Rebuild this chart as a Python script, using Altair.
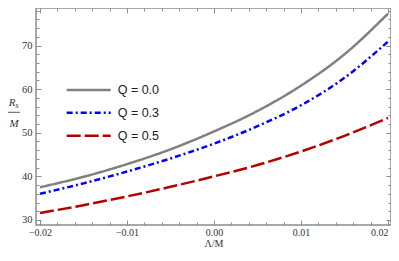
import altair as alt
import pandas as pd

# ---- data ----
lam = [-0.02, -0.015, -0.01, -0.005, 0.0, 0.005, 0.01, 0.015, 0.02]
rs_q00 = [37.5, 39.9, 42.8, 46.2, 50.3, 55.0, 60.8, 68.0, 77.3]
rs_q03 = [36.0, 38.4, 41.1, 44.1, 47.5, 51.5, 56.3, 62.6, 70.9]
rs_q05 = [31.6, 33.4, 35.4, 37.6, 40.0, 42.6, 45.7, 49.3, 53.4]
series = ["Q = 0.0", "Q = 0.3", "Q = 0.5"]
colors = ["#808080", "#0000ff", "#b30000"]
dashes = [[1, 0], [6, 3, 2, 3], [14, 4]]

x_major = [-0.02, -0.01, 0.0, 0.01, 0.02]
x_minor = [-0.018, -0.016, -0.014, -0.012, -0.008, -0.006, -0.004, -0.002,
           0.002, 0.004, 0.006, 0.008, 0.012, 0.014, 0.016, 0.018]
y_major = [30, 40, 50, 60, 70]
y_minor = [32, 34, 36, 38, 42, 44, 46, 48, 52, 54, 56, 58, 62, 64, 66, 68, 72, 74, 76, 78]

rows = []
for name, vals in zip(series, [rs_q00, rs_q03, rs_q05]):
    for l, v in zip(lam, vals):
        rows.append({"lam": l, "rs": v, "series": name})
df = pd.DataFrame(rows)
leg = pd.DataFrame({"series": series})

W, H = 355, 217
XDOM = [-0.02046, 0.020345]
YDOM = [28.85, 78.6]
FRAME = "#8c8c8c"
SERIF = "Liberation Serif"
TXT = "#333333"

xs = alt.Scale(domain=XDOM, nice=False, zero=False)
ys = alt.Scale(domain=YDOM, nice=False, zero=False)
cscale = alt.Scale(domain=series, range=colors)
dscale = alt.Scale(domain=series, range=dashes)
lscale = alt.Scale(domain=series, range=[82, 127.7], type="point", padding=0)


def tick_axis(orient, values, size):
    return alt.Axis(orient=orient, values=values, labels=False, domain=False, grid=False,
                    ticks=True, tickSize=size, tickColor=FRAME, tickWidth=1,
                    offset=-size, title=None)


lines = alt.Chart(df).mark_line(strokeWidth=2.5, interpolate="monotone").encode(
    x=alt.X("lam:Q", scale=xs,
            axis=alt.Axis(orient="bottom", values=x_major, format=".2f", ticks=False,
                          domain=False, grid=False, labelFont=SERIF, labelFontSize=10,
                          labelColor=TXT, labelPadding=2,
                          labelAlign=alt.expr("datum.value > 0.015 ? 'right' : 'center'"),
                          title="Λ/M", titleFont=SERIF, titleFontSize=10,
                          titleFontWeight="normal", titleColor=TXT, titlePadding=1)),
    y=alt.Y("rs:Q", scale=ys,
            axis=alt.Axis(orient="left", values=y_major, ticks=False, domain=False,
                          grid=False, labelFont=SERIF, labelFontSize=10.5,
                          labelColor=TXT, labelPadding=4, title=None)),
    color=alt.Color("series:N", scale=cscale, legend=None),
    strokeDash=alt.StrokeDash("series:N", scale=dscale, legend=None),
    detail="series:N",
)


def tick_layer(xo, yo, xv, yv, size):
    return alt.Chart(df).mark_point(opacity=0).encode(
        x=alt.X("lam:Q", scale=xs, axis=tick_axis(xo, xv, size)),
        y=alt.Y("rs:Q", scale=ys, axis=tick_axis(yo, yv, size)),
    )


t1 = tick_layer("bottom", "left", x_major, y_major, 5)
t2 = tick_layer("bottom", "left", x_minor, y_minor, 3)
t3 = tick_layer("top", "right", x_major, y_major, 5)
t4 = tick_layer("top", "right", x_minor, y_minor, 3)

# legend drawn inside the plot
leg_lines = alt.Chart(leg).mark_rule(strokeWidth=2.5).encode(
    x=alt.value(30.7), x2=alt.value(74.7),
    y=alt.Y("series:N", scale=lscale, axis=None),
    color=alt.Color("series:N", scale=cscale, legend=None),
    strokeDash=alt.StrokeDash("series:N", scale=dscale, legend=None),
)
leg_text = alt.Chart(leg).mark_text(align="left", baseline="middle", font="Liberation Sans",
                                    fontSize=12.5, color="#222222").encode(
    x=alt.value(81.7),
    y=alt.Y("series:N", scale=lscale, axis=None),
    text="series:N",
)

# y-axis title as a fraction R_s / M
ytitle_df = pd.DataFrame({"t": ["R"]})
r_txt = alt.Chart(ytitle_df).mark_text(font=SERIF, fontStyle="italic", fontSize=11,
                                       align="center", baseline="alphabetic", color=TXT).encode(
    x=alt.value(-24), y=alt.value(98), text=alt.value("R"))
s_txt = alt.Chart(ytitle_df).mark_text(font=SERIF, fontStyle="italic", fontSize=8,
                                       align="center", baseline="alphabetic", color=TXT).encode(
    x=alt.value(-19), y=alt.value(100), text=alt.value("s"))
bar = alt.Chart(ytitle_df).mark_rule(color=TXT, strokeWidth=0.8).encode(
    x=alt.value(-28), x2=alt.value(-16), y=alt.value(104.3))
m_txt = alt.Chart(ytitle_df).mark_text(font=SERIF, fontStyle="italic", fontSize=11,
                                       align="center", baseline="alphabetic", color=TXT).encode(
    x=alt.value(-22), y=alt.value(119), text=alt.value("M"))

chart = alt.layer(lines, t1, t2, t3, t4, leg_lines, leg_text, r_txt, s_txt, bar, m_txt).resolve_scale(
    x="independent", y="independent"
).properties(
    width=W, height=H,
    autosize=alt.AutoSizeParams(type="none"),
    padding={"left": 28, "top": 0, "right": 0, "bottom": 22},
).configure_view(
    stroke=FRAME, strokeWidth=1.5
)

chart.save("out.html", embed_options={"renderer": "svg", "actions": False})
